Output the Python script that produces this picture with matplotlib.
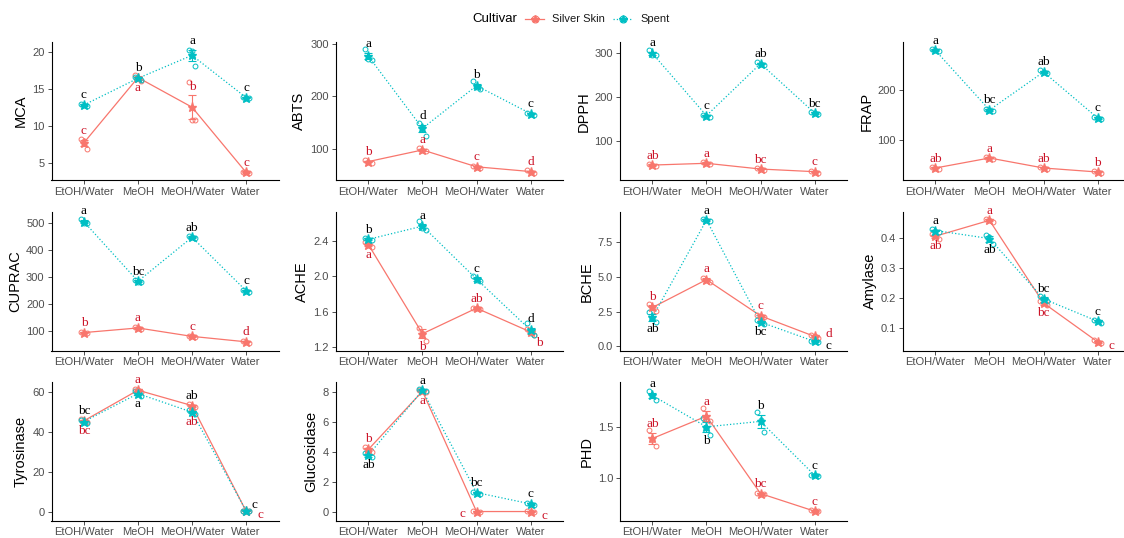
import matplotlib
matplotlib.use("Agg")
import matplotlib.pyplot as plt
from matplotlib.lines import Line2D

plt.rcParams["font.family"] = ["Liberation Sans", "DejaVu Sans"]

categories = ["EtOH/Water", "MeOH", "MeOH/Water", "Water"]

# ---- data: mean, se, replicates, letters for Silver Skin (ss) and Spent (sp)
mca_ss = [7.8, 16.6, 12.6, 3.8]
mca_ss_se = [0.4, 0.2, 1.6, 0.1]
mca_ss_rep = [[8.3, 8.0, 7.0], [16.9, 16.6, 16.2], [16.0, 10.9, 10.9], [3.9, 3.8, 3.7]]
mca_sp = [12.9, 16.5, 19.6, 13.9]
mca_sp_se = [0.1, 0.2, 0.7, 0.1]
mca_sp_rep = [[13.0, 12.9, 12.8], [16.7, 16.5, 16.3], [20.3, 20.2, 18.2], [14.0, 13.9, 13.8]]
mca_ss_let = ["c", "a", "b", "c"]
mca_sp_let = ["c", "b", "a", "c"]

abts_ss = [76, 98, 66, 57]
abts_ss_se = [1.5, 2, 1.5, 1.5]
abts_ss_rep = [[78, 76, 74], [101, 97, 96], [68, 66, 64], [59, 57, 55]]
abts_sp = [276, 139, 220, 167]
abts_sp_se = [6, 7, 4, 1.5]
abts_sp_rep = [[289, 271, 268], [150, 142, 125], [229, 218, 213], [169, 167, 165]]
abts_ss_let = ["b", "a", "c", "d"]
abts_sp_let = ["a", "d", "b", "c"]

dpph_ss = [46, 50, 37, 31]
dpph_ss_se = [1, 1, 1, 1]
dpph_ss_rep = [[48, 46, 44], [52, 50, 48], [39, 37, 35], [33, 31, 29]]
dpph_sp = [299, 158, 276, 164]
dpph_sp_se = [4, 1.5, 2, 1.5]
dpph_sp_rep = [[306, 296, 295], [160, 158, 156], [279, 276, 273], [166, 164, 162]]
dpph_ss_let = ["ab", "a", "bc", "c"]
dpph_sp_let = ["a", "c", "ab", "bc"]

frap_ss = [45, 65, 45, 37]
frap_ss_se = [1, 1, 1, 1]
frap_ss_rep = [[47, 45, 43], [67, 65, 63], [47, 45, 43], [39, 37, 35]]
frap_sp = [280, 161, 237, 145]
frap_sp_se = [1.5, 1.5, 2, 1.5]
frap_sp_rep = [[282, 280, 278], [163, 161, 159], [240, 237, 234], [147, 145, 143]]
frap_ss_let = ["ab", "a", "ab", "b"]
frap_sp_let = ["a", "bc", "ab", "c"]

cuprac_ss = [96, 113, 82, 62]
cuprac_ss_se = [2, 3, 2, 2]
cuprac_ss_rep = [[99, 96, 93], [118, 112, 109], [85, 82, 79], [65, 62, 59]]
cuprac_sp = [504, 285, 447, 250]
cuprac_sp_se = [6, 3, 2, 2]
cuprac_sp_rep = [[514, 500, 498], [290, 284, 281], [450, 447, 444], [253, 250, 247]]
cuprac_ss_let = ["b", "a", "c", "d"]
cuprac_sp_let = ["a", "bc", "ab", "c"]

ache_ss = [2.36, 1.35, 1.64, 1.37]
ache_ss_se = [0.02, 0.05, 0.005, 0.02]
ache_ss_rep = [[2.39, 2.36, 2.33], [1.42, 1.36, 1.27], [1.645, 1.64, 1.635], [1.40, 1.37, 1.34]]
ache_sp = [2.42, 2.57, 1.97, 1.39]
ache_sp_se = [0.01, 0.02, 0.02, 0.03]
ache_sp_rep = [[2.43, 2.42, 2.41], [2.63, 2.55, 2.53], [2.00, 1.96, 1.95], [1.47, 1.36, 1.34]]
ache_ss_let = ["a", "b", "ab", "b"]
ache_sp_let = ["b", "a", "c", "d"]

bche_ss = [2.8, 4.8, 2.2, 0.72]
bche_ss_se = [0.15, 0.1, 0.05, 0.05]
bche_ss_rep = [[3.05, 2.8, 2.55], [4.95, 4.8, 4.65], [2.28, 2.2, 2.12], [0.8, 0.72, 0.64]]
bche_sp = [2.1, 9.08, 1.75, 0.36]
bche_sp_se = [0.25, 0.05, 0.08, 0.04]
bche_sp_rep = [[2.5, 2.05, 1.75], [9.15, 9.08, 9.01], [1.88, 1.75, 1.62], [0.42, 0.36, 0.30]]
bche_ss_let = ["b", "a", "c", "d"]
bche_sp_let = ["ab", "a", "bc", "c"]

amy_ss = [0.407, 0.46, 0.183, 0.053]
amy_ss_se = [0.005, 0.003, 0.005, 0.003]
amy_ss_rep = [[0.415, 0.407, 0.399], [0.465, 0.46, 0.455], [0.191, 0.183, 0.175], [0.058, 0.053, 0.048]]
amy_sp = [0.426, 0.399, 0.197, 0.122]
amy_sp_se = [0.003, 0.01, 0.005, 0.003]
amy_sp_rep = [[0.431, 0.426, 0.421], [0.41, 0.405, 0.382], [0.205, 0.197, 0.189], [0.127, 0.122, 0.117]]
amy_ss_let = ["ab", "a", "bc", "c"]
amy_sp_let = ["a", "ab", "bc", "c"]

tyr_ss = [45.4, 60.7, 53.0, 0.2]
tyr_ss_se = [0.5, 0.5, 0.5, 0.1]
tyr_ss_rep = [[46.2, 45.4, 44.6], [61.5, 60.7, 59.9], [53.8, 53.0, 52.2], [0.3, 0.2, 0.1]]
tyr_sp = [45.0, 59.0, 49.7, 0.4]
tyr_sp_se = [0.5, 0.8, 0.6, 0.1]
tyr_sp_rep = [[45.8, 45.0, 44.2], [60.2, 59.0, 57.8], [50.6, 49.7, 48.8], [0.5, 0.4, 0.3]]
tyr_ss_let = ["bc", "a", "ab", "c"]
tyr_sp_let = ["bc", "a", "ab", "c"]

glu_ss = [4.18, 8.07, 0.02, 0.02]
glu_ss_se = [0.1, 0.05, 0.01, 0.01]
glu_ss_rep = [[4.33, 4.18, 4.03], [8.15, 8.07, 7.99], [0.03, 0.02, 0.01], [0.03, 0.02, 0.01]]
glu_sp = [3.8, 8.13, 1.29, 0.53]
glu_sp_se = [0.1, 0.05, 0.05, 0.05]
glu_sp_rep = [[3.95, 3.8, 3.65], [8.2, 8.13, 8.06], [1.36, 1.29, 1.22], [0.6, 0.53, 0.46]]
glu_ss_let = ["b", "a", "c", "c"]
glu_sp_let = ["ab", "a", "bc", "c"]

phd_ss = [1.385, 1.60, 0.853, 0.683]
phd_ss_se = [0.05, 0.05, 0.01, 0.005]
phd_ss_rep = [[1.47, 1.37, 1.31], [1.68, 1.57, 1.55], [0.86, 0.85, 0.85], [0.69, 0.68, 0.68]]
phd_sp = [1.80, 1.497, 1.55, 1.03]
phd_sp_se = [0.025, 0.05, 0.06, 0.005]
phd_sp_rep = [[1.84, 1.80, 1.76], [1.58, 1.49, 1.42], [1.64, 1.56, 1.45], [1.035, 1.03, 1.025]]
phd_ss_let = ["ab", "a", "bc", "c"]
phd_sp_let = ["a", "b", "b", "c"]

panel_names = ["MCA", "ABTS", "DPPH", "FRAP", "CUPRAC", "ACHE", "BCHE",
               "Amylase", "Tyrosinase", "Glucosidase", "PHD"]

panels = [
    (mca_ss, mca_ss_se, mca_ss_rep, mca_ss_let, mca_sp, mca_sp_se, mca_sp_rep, mca_sp_let),
    (abts_ss, abts_ss_se, abts_ss_rep, abts_ss_let, abts_sp, abts_sp_se, abts_sp_rep, abts_sp_let),
    (dpph_ss, dpph_ss_se, dpph_ss_rep, dpph_ss_let, dpph_sp, dpph_sp_se, dpph_sp_rep, dpph_sp_let),
    (frap_ss, frap_ss_se, frap_ss_rep, frap_ss_let, frap_sp, frap_sp_se, frap_sp_rep, frap_sp_let),
    (cuprac_ss, cuprac_ss_se, cuprac_ss_rep, cuprac_ss_let, cuprac_sp, cuprac_sp_se, cuprac_sp_rep, cuprac_sp_let),
    (ache_ss, ache_ss_se, ache_ss_rep, ache_ss_let, ache_sp, ache_sp_se, ache_sp_rep, ache_sp_let),
    (bche_ss, bche_ss_se, bche_ss_rep, bche_ss_let, bche_sp, bche_sp_se, bche_sp_rep, bche_sp_let),
    (amy_ss, amy_ss_se, amy_ss_rep, amy_ss_let, amy_sp, amy_sp_se, amy_sp_rep, amy_sp_let),
    (tyr_ss, tyr_ss_se, tyr_ss_rep, tyr_ss_let, tyr_sp, tyr_sp_se, tyr_sp_rep, tyr_sp_let),
    (glu_ss, glu_ss_se, glu_ss_rep, glu_ss_let, glu_sp, glu_sp_se, glu_sp_rep, glu_sp_let),
    (phd_ss, phd_ss_se, phd_ss_rep, phd_ss_let, phd_sp, phd_sp_se, phd_sp_rep, phd_sp_let),
]

# ---- axis setup and label placement (style, not data)
ylims = [(2.7, 21.4), (40, 303), (11, 325), (20, 297), (30, 540), (1.16, 2.73),
         (-0.29, 9.66), (0.024, 0.488), (-4.5, 64.8), (-0.58, 8.69), (0.593, 1.93)]
yticks = [[5, 10, 15, 20], [100, 200, 300], [100, 200, 300], [100, 200],
          [100, 200, 300, 400, 500], [1.2, 1.6, 2.0, 2.4], [0.0, 2.5, 5.0, 7.5],
          [0.1, 0.2, 0.3, 0.4], [0, 20, 40, 60], [0, 2, 4, 6, 8], [1.0, 1.5]]
# a = above, b = below, A/B = above/below both series, r/l = right/left,
# ru = right and up, br/ar = below/above and right
ss_place = [["a", "b", "a", "a"], ["a"] * 4, ["a"] * 4, ["a"] * 4, ["a"] * 4,
            ["b", "b", "a", "br"], ["a", "a", "a", "ru"], ["b", "a", "b", "r"],
            ["B", "a", "B", "r"], ["a", "b", "l", "r"], ["a"] * 4]
sp_place = [["a"] * 4, ["a"] * 4, ["a"] * 4, ["a"] * 4, ["a"] * 4,
            ["a"] * 4, ["b", "a", "b", "r"], ["a", "b", "a", "a"],
            ["A", "b", "A", "ar"], ["b", "a", "a", "a"], ["a", "b", "a", "a"]]

W, H = 1124, 538
col_left = [51.5, 336, 620, 903]
col_w = 227
row_top = [42, 212, 382]
row_h = 138.5

ss_col = "#F8766D"
sp_col = "#00BFC4"
ss_txt = "#CC1428"
sp_txt = "black"
jit = [-0.06, 0.0, 0.06]

fig = plt.figure(figsize=(W / 100, H / 100), dpi=100)


def put_letters(ax, mean, se, other, other_se, letters, places, color):
    for i, (m, s, t, p) in enumerate(zip(mean, se, letters, places)):
        top = max(m + s, other[i] + other_se[i])
        low = min(m - s, other[i] - other_se[i])
        if p == "a":
            xy, off, va = (i, m + s), (0, 2), "bottom"
        elif p == "A":
            xy, off, va = (i, top), (0, 2), "bottom"
        elif p == "b":
            xy, off, va = (i, m - s), (0, -2), "top"
        elif p == "B":
            xy, off, va = (i, low), (0, -2), "top"
        elif p == "r":
            xy, off, va = (i, m), (10, -3), "center"
        elif p == "ru":
            xy, off, va = (i, m), (10, 1.5), "center"
        elif p == "l":
            xy, off, va = (i, m), (-10, -2), "center"
        elif p == "br":
            xy, off, va = (i, m - s), (6, -2), "top"
        else:
            xy, off, va = (i, m + s), (6, 0), "bottom"
        ax.annotate(t, xy=xy, xytext=off, textcoords="offset points", ha="center",
                    va=va, fontsize=9.5, color=color, family="Liberation Serif",
                    annotation_clip=False, zorder=6)


def draw_series(ax, mean, se, reps, col, ls):
    x = list(range(len(mean)))
    ax.plot(x, mean, ls, color=col, lw=0.9, zorder=2)
    ax.errorbar(x, mean, yerr=se, fmt="none", ecolor=col, elinewidth=0.8,
                capsize=3, capthick=0.8, zorder=3)
    for i, r in enumerate(reps):
        for j, v in enumerate(r):
            ax.plot(i + jit[j], v, "o", mfc="none", mec=col, ms=3.5, mew=0.7, zorder=4)
    ax.plot(x, mean, "*", color=col, ms=6.5, zorder=5)


for k, name in enumerate(panel_names):
    r, c = divmod(k, 4)
    ax = fig.add_axes([col_left[c] / W, 1 - (row_top[r] + row_h) / H, col_w / W, row_h / H])
    ss_m, ss_se, ss_rep, ss_let, sp_m, sp_se, sp_rep, sp_let = panels[k]
    draw_series(ax, ss_m, ss_se, ss_rep, ss_col, "-")
    draw_series(ax, sp_m, sp_se, sp_rep, sp_col, ":")
    put_letters(ax, ss_m, ss_se, sp_m, sp_se, ss_let, ss_place[k], ss_txt)
    put_letters(ax, sp_m, sp_se, ss_m, ss_se, sp_let, sp_place[k], sp_txt)

    ax.set_xlim(-0.6, 3.6)
    ax.set_ylim(*ylims[k])
    ax.set_xticks(range(len(categories)))
    ax.set_xticklabels(categories)
    ax.set_yticks(yticks[k])
    ax.set_ylabel(name, fontsize=10.5, labelpad=3)
    for side in ["top", "right"]:
        ax.spines[side].set_visible(False)
    for side in ["left", "bottom"]:
        ax.spines[side].set_linewidth(0.8)
    ax.tick_params(labelsize=8, labelcolor="#4D4D4D", color="#333333",
                   length=3, width=0.6, pad=2)

# legend along the top
yl = 1 - 19 / H
fig.text(472 / W, yl, "Cultivar", fontsize=9.5, va="center", ha="left")
for x0, col, ls, lab in [(525, ss_col, "-", "Silver Skin"), (613, sp_col, ":", "Spent")]:
    fig.add_artist(Line2D([x0 / W, (x0 + 19) / W], [yl, yl], color=col, ls=ls, lw=0.9))
    fig.add_artist(Line2D([(x0 + 9.5) / W], [yl], marker="o", mfc="none", mec=col, ms=5, mew=0.8))
    fig.add_artist(Line2D([(x0 + 9.5) / W], [yl], marker="*", color=col, ms=6))
    fig.text((x0 + 27) / W, yl, lab, fontsize=8, va="center", ha="left", color="#1A1A1A")

fig.savefig("out.png", dpi=100)
